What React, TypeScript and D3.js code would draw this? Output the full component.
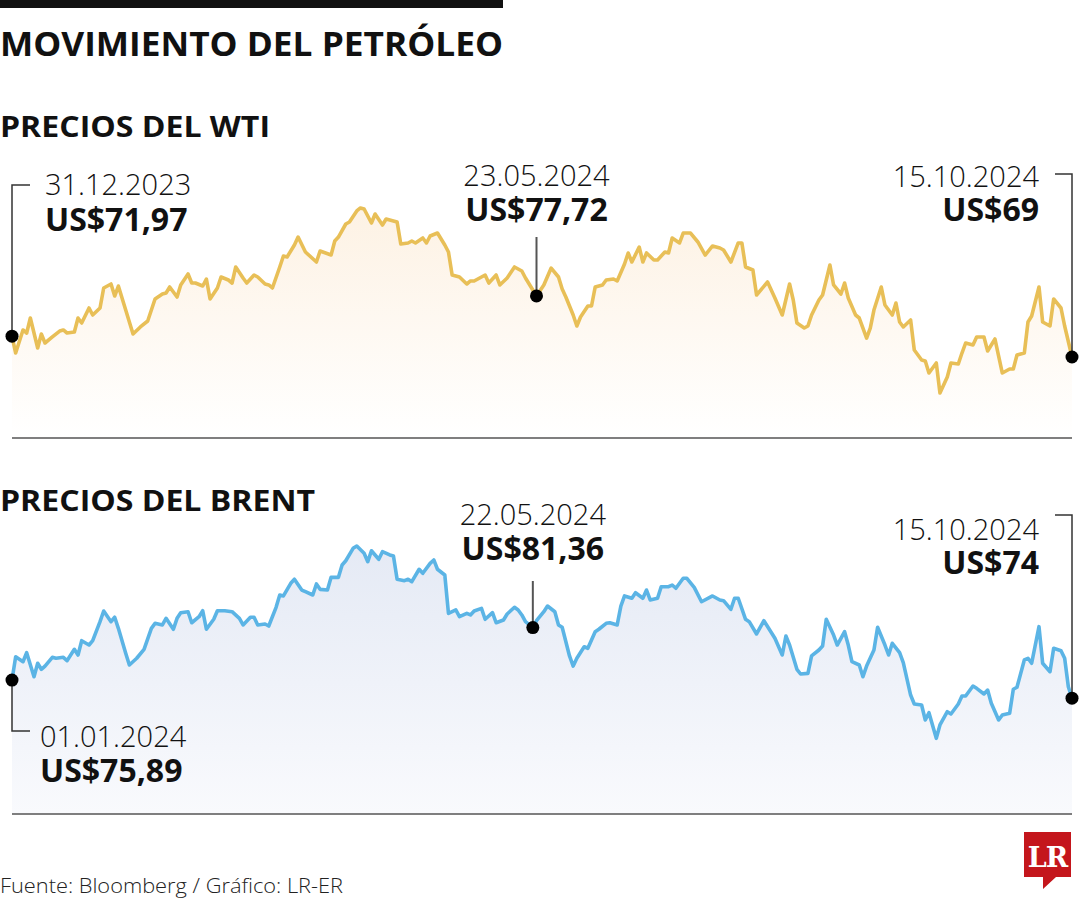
import React from "react";
import * as d3 from "d3";

// ---------- DATA ----------
const START_DATE = new Date(2023, 11, 31);
const END_DATE = new Date(2024, 9, 15);

// day offsets from 31.12.2023 and prices (US$)
const wtiDays = [
  0, 1, 3, 4, 5, 7, 8, 9, 11, 13, 14, 15, 17, 18, 19, 21, 22, 24, 25, 27,
  28, 29, 31, 33, 35, 37, 39, 41, 42, 43, 45, 46, 48, 49, 50, 52, 53, 54, 56, 57,
  59, 60, 61, 63, 64, 66, 67, 69, 70, 71, 73, 74, 75, 77, 78, 80, 83, 84, 87, 88,
  89, 91, 92, 94, 95, 96, 98, 99, 101, 102, 104, 105, 106, 108, 109, 110, 112, 113, 114, 116,
  118, 119, 120, 122, 124, 125, 126, 128, 129, 130, 132, 133, 135, 137, 139, 140, 142, 143, 145, 147,
  149, 150, 151, 153, 154, 155, 157, 158, 159, 161, 162, 164, 165, 167, 168, 169, 171, 172, 173, 175,
  176, 178, 179, 180, 182, 183, 185, 187, 189, 191, 193, 194, 196, 198, 199, 200, 202, 203, 206, 208,
  210, 212, 213, 214, 216, 217, 218, 220, 221, 223, 224, 226, 227, 228, 230, 231, 233, 234, 235, 237,
  238, 240, 241, 242, 243, 245, 246, 248, 249, 250, 252, 253, 255, 256, 258, 259, 260, 262, 263, 265,
  266, 268, 269, 270, 272, 273, 274, 276, 277, 278, 280, 281, 283, 284, 286, 287, 289,
];
const wtiPrices = [
  71.97, 69.57, 72.86, 72.43, 74.57, 70.29, 72.29, 71.0, 71.86, 72.71,
  72.86, 72.43, 72.57, 74.57, 73.86, 76.0, 75.0, 76.0, 78.86, 79.43,
  77.71, 79.14, 75.71, 72.29, 73.29, 74.14, 77.29, 78.0, 78.14, 79.0,
  77.57, 79.29, 80.86, 79.57, 79.57, 79.14, 80.14, 77.29, 78.86, 80.43,
  80.0, 79.57, 81.86, 80.29, 79.57, 80.71, 80.43, 79.43, 79.29, 78.86,
  81.86, 83.43, 83.29, 85.0, 86.14, 84.0, 82.57, 84.14, 83.57, 85.57,
  86.14, 88.0, 88.29, 89.86, 90.29, 90.14, 88.14, 89.43, 87.86, 88.71,
  88.43, 88.29, 85.14, 85.29, 85.57, 85.29, 86.0, 85.29, 86.29, 86.71,
  85.0, 84.0, 80.71, 80.43, 79.43, 79.86, 79.86, 80.43, 80.71, 79.57,
  80.71, 79.29, 80.29, 81.86, 81.29, 80.29, 78.57, 77.72, 79.29, 81.71,
  80.43, 78.71, 77.57, 75.0, 73.43, 74.71, 76.29, 76.29, 79.0, 79.29,
  80.0, 80.14, 79.86, 82.29, 83.86, 82.57, 84.71, 82.57, 83.86, 82.86,
  82.86, 84.0, 83.86, 86.0, 85.29, 86.71, 86.71, 85.43, 83.57, 84.86,
  84.57, 84.29, 82.57, 85.29, 85.29, 81.86, 81.43, 77.86, 79.71, 77.43,
  75.0, 79.43, 77.14, 73.86, 73.14, 73.43, 75.0, 77.14, 77.86, 82.14,
  79.29, 78.0, 79.57, 77.43, 75.0, 74.57, 71.71, 73.14, 75.71, 79.0,
  76.43, 75.0, 76.71, 74.0, 73.29, 74.29, 70.0, 68.57, 68.43, 66.71,
  68.14, 63.86, 66.14, 68.14, 68.0, 69.57, 71.0, 70.71, 71.86, 71.86,
  69.86, 71.57, 69.14, 66.71, 67.29, 67.29, 69.29, 69.57, 74.0, 74.86,
  79.0, 74.0, 73.43, 77.29, 76.0, 73.43, 69.0,
];

const brentDays = [
  0, 1, 3, 4, 6, 7, 8, 9, 11, 12, 14, 15, 17, 18, 19, 21, 22, 24, 25, 27,
  28, 29, 31, 32, 34, 36, 38, 39, 41, 42, 44, 45, 46, 48, 49, 51, 52, 53, 55, 56,
  58, 60, 62, 63, 65, 66, 67, 69, 70, 72, 73, 74, 76, 77, 79, 80, 82, 83, 84, 86,
  87, 89, 90, 91, 93, 94, 96, 97, 98, 100, 101, 103, 104, 105, 107, 108, 109, 111, 112, 114,
  115, 116, 118, 119, 121, 122, 124, 125, 126, 128, 129, 131, 132, 134, 135, 137, 138, 139, 140, 142,
  143, 145, 146, 148, 149, 150, 152, 153, 154, 156, 157, 159, 160, 162, 163, 165, 166, 167, 169, 170,
  172, 173, 174, 176, 177, 179, 180, 181, 183, 184, 186, 188, 191, 193, 194, 196, 197, 198, 200, 201,
  203, 205, 208, 210, 211, 212, 214, 215, 217, 218, 220, 221, 222, 224, 225, 227, 228, 229, 231, 232,
  233, 235, 236, 238, 239, 240, 242, 243, 245, 246, 248, 249, 250, 252, 253, 255, 256, 258, 259, 260,
  262, 263, 265, 266, 267, 269, 270, 272, 273, 274, 276, 277, 278, 280, 281, 283, 284, 286, 287, 288,
  289,
];
const brentPrices = [
  75.89, 78.32, 77.8, 78.74, 76.24, 77.64, 77.01, 77.35, 78.26, 78.16,
  78.26, 77.91, 79.09, 78.5, 79.99, 79.54, 79.99, 81.97, 83.08, 81.97,
  82.43, 81.28, 78.68, 77.46, 78.16, 79.09, 81.28, 81.8, 81.63, 82.32,
  81.18, 82.32, 82.91, 83.01, 81.86, 82.49, 83.11, 81.18, 82.22, 83.11,
  83.11, 83.01, 82.32, 81.63, 82.43, 82.43, 81.63, 81.73, 81.52, 83.47,
  84.75, 84.65, 85.97, 86.39, 85.27, 85.09, 84.75, 85.9, 85.34, 85.27,
  86.59, 86.59, 87.88, 88.32, 89.61, 89.85, 89.09, 88.22, 89.36, 88.47,
  89.26, 88.92, 88.81, 86.39, 86.24, 86.39, 86.14, 87.43, 87.01, 88.05,
  88.4, 87.43, 86.83, 82.84, 83.19, 82.49, 82.84, 82.67, 83.08, 83.36,
  82.22, 82.91, 81.86, 82.15, 82.77, 83.47, 83.19, 82.67, 81.97, 81.36,
  82.07, 83.01, 83.6, 83.01, 81.63, 81.39, 78.4, 77.35, 78.16, 79.36,
  79.2, 80.93, 81.18, 81.8, 81.86, 81.63, 83.6, 84.65, 84.41, 84.99,
  84.41, 85.27, 84.23, 84.41, 85.61, 85.61, 85.79, 85.45, 86.49, 86.49,
  85.55, 84.05, 84.65, 84.23, 84.16, 83.26, 84.41, 84.41, 82.22, 81.97,
  80.69, 82.07, 80.24, 78.5, 80.48, 79.54, 77.01, 76.52, 76.59, 78.4,
  79.02, 79.44, 82.22, 80.58, 79.54, 80.93, 79.54, 77.8, 77.46, 76.24,
  77.35, 79.02, 81.39, 79.54, 78.5, 79.72, 78.74, 77.7, 74.33, 73.4,
  73.29, 71.73, 72.49, 69.82, 71.21, 72.59, 72.35, 73.4, 74.23, 74.23,
  75.27, 75.03, 74.44, 74.85, 73.47, 71.73, 72.25, 72.43, 74.93, 75.14,
  77.98, 78.16, 77.64, 81.45, 77.64, 76.76, 79.2, 78.95, 78.16, 75.2,
  74.0,
];

const titleText = "MOVIMIENTO DEL PETRÓLEO";
const panelTitles = ["PRECIOS DEL WTI", "PRECIOS DEL BRENT"];
const wtiLabels = [
  { date: "31.12.2023", value: "US$71,97", day: 0 },
  { date: "23.05.2024", value: "US$77,72", day: 143 },
  { date: "15.10.2024", value: "US$69", day: 289 },
];
const brentLabels = [
  { date: "01.01.2024", value: "US$75,89", day: 0 },
  { date: "22.05.2024", value: "US$81,36", day: 142 },
  { date: "15.10.2024", value: "US$74", day: 289 },
];
const sourceText = "Fuente: Bloomberg / Gráfico: LR-ER";

// ---------- LAYOUT ----------
const W = 1080;
const H = 900;
const FONT = "'Open Sans', 'Noto Sans', sans-serif";

const x = d3.scaleTime().domain([START_DATE, END_DATE]).range([12, 1072]);
const dayDate = (d: number) => d3.timeDay.offset(START_DATE, d);

type Pt = { date: Date; value: number; day: number };
const toPoints = (days: number[], prices: number[]): Pt[] =>
  days.map((d, i) => ({ date: dayDate(d), value: prices[i], day: d }));

type Panel = {
  key: string;
  title: string;
  titleY: number;
  titleLen: number;
  points: Pt[];
  y: d3.ScaleLinear<number, number>;
  baseY: number;
  color: string;
  gradTop: string;
  gradBottom: string;
  gradY0: number;
  labels: { date: string; value: string; day: number }[];
  startLeaderY: number;
  startText: { dateY: number; valueY: number; x: number };
  midLeaderTop: number;
  midText: { dateY: number; valueY: number };
  endLeaderY: number;
  endText: { dateY: number; valueY: number };
};

const panels: Panel[] = [
  {
    key: "wti",
    title: panelTitles[0],
    titleY: 137,
    titleLen: 270,
    points: toPoints(wtiDays, wtiPrices),
    y: d3.scaleLinear().domain([60, 95]).range([420, 175]),
    baseY: 438,
    color: "#E8BF57",
    gradTop: "#FDF2E4",
    gradBottom: "#FFFFFF",
    gradY0: 210,
    labels: wtiLabels,
    startLeaderY: 185,
    startText: { dateY: 195, valueY: 231, x: 45 },
    midLeaderTop: 237,
    midText: { dateY: 186, valueY: 221 },
    endLeaderY: 174,
    endText: { dateY: 187, valueY: 221 },
  },
  {
    key: "brent",
    title: panelTitles[1],
    titleY: 511,
    titleLen: 315,
    points: toPoints(brentDays, brentPrices),
    y: d3.scaleLinear().domain([60, 95]).range([832.6, 496.6]),
    baseY: 814,
    color: "#5BB4E5",
    gradTop: "#E5EAF5",
    gradBottom: "#F9FAFD",
    gradY0: 550,
    labels: brentLabels,
    startLeaderY: 731,
    startText: { dateY: 747, valueY: 782, x: 40 },
    midLeaderTop: 581,
    midText: { dateY: 525, valueY: 560 },
    endLeaderY: 515,
    endText: { dateY: 540, valueY: 574 },
  },
];

function PanelView({ p }: { p: Panel }) {
  const line = d3
    .line<Pt>()
    .x((d) => x(d.date))
    .y((d) => p.y(d.value))
    .curve(d3.curveLinear);
  const area = d3
    .area<Pt>()
    .x((d) => x(d.date))
    .y0(p.baseY)
    .y1((d) => p.y(d.value))
    .curve(d3.curveLinear);
  const find = (day: number) => p.points.find((d) => d.day === day)!;
  const [sL, mL, eL] = p.labels;
  const s = find(sL.day);
  const m = find(mL.day);
  const e = find(eL.day);
  const sx = x(s.date), sy = p.y(s.value);
  const mx = x(m.date), my = p.y(m.value);
  const ex = x(e.date), ey = p.y(e.value);
  const gradId = `grad-${p.key}`;
  return (
    <g>
      <defs>
        <linearGradient id={gradId} gradientUnits="userSpaceOnUse" x1="0" x2="0" y1={p.gradY0} y2={p.baseY}>
          <stop offset="0" stopColor={p.gradTop} />
          <stop offset="1" stopColor={p.gradBottom} />
        </linearGradient>
      </defs>
      <text x={0} y={p.titleY} fontFamily={FONT} fontWeight={700} fontSize={28} fill="#111"
        textLength={p.titleLen} lengthAdjust="spacingAndGlyphs">
        {p.title}
      </text>
      <path d={area(p.points) || ""} fill={`url(#${gradId})`} />
      <path d={line(p.points) || ""} fill="none" stroke={p.color} strokeWidth={3.6} strokeLinejoin="round" />
      <line x1={12} x2={1072} y1={p.baseY} y2={p.baseY} stroke="#555" strokeWidth={1.5} />

      <path d={`M${sx + 18},${p.startLeaderY} H${sx} V${sy}`} fill="none" stroke="#333" strokeWidth={1.5} />
      <line x1={mx} x2={mx} y1={p.midLeaderTop} y2={my} stroke="#555" strokeWidth={2} />
      <path d={`M${ex - 17},${p.endLeaderY} H${ex} V${ey}`} fill="none" stroke="#333" strokeWidth={1.5} />

      <circle cx={sx} cy={sy} r={6.5} fill="#000" />
      <circle cx={mx} cy={my} r={6.5} fill="#000" />
      <circle cx={ex} cy={ey} r={6.5} fill="#000" />

      <g fontFamily={FONT} fill="#111">
        <text x={p.startText.x} y={p.startText.dateY} fontSize={29} fontWeight={300}>{sL.date}</text>
        <text x={p.startText.x} y={p.startText.valueY} fontSize={32} fontWeight={700}>{sL.value}</text>
        <text x={mx} y={p.midText.dateY} fontSize={29} fontWeight={300} textAnchor="middle">{mL.date}</text>
        <text x={mx} y={p.midText.valueY} fontSize={32} fontWeight={700} textAnchor="middle">{mL.value}</text>
        <text x={1039} y={p.endText.dateY} fontSize={29} fontWeight={300} textAnchor="end">{eL.date}</text>
        <text x={1039} y={p.endText.valueY} fontSize={32} fontWeight={700} textAnchor="end">{eL.value}</text>
      </g>
    </g>
  );
}

export default function App() {
  return (
    <svg width={W} height={H} viewBox={`0 0 ${W} ${H}`}
      style={{ position: "absolute", left: 0, top: 0, background: "#fff" }}>
      <rect x={0} y={0} width={W} height={H} fill="#fff" />
      <rect x={0} y={0} width={503} height={8} fill="#111" />
      <text x={0} y={56} fontFamily={FONT} fontWeight={700} fontSize={34} fill="#111"
        textLength={503} lengthAdjust="spacingAndGlyphs">
        {titleText}
      </text>
      {panels.map((p) => (
        <PanelView key={p.key} p={p} />
      ))}
      <text x={0} y={893} fontFamily={FONT} fontWeight={300} fontSize={21} fill="#222"
        textLength={343} lengthAdjust="spacingAndGlyphs">
        {sourceText}
      </text>
      <g>
        <path d="M1024,832 H1071 V877 H1056 L1043,889 L1043,877 H1024 Z" fill="#C4161C" />
        <text x={1047.5} y={867} textAnchor="middle" fontFamily="'DejaVu Serif', 'Liberation Serif', serif"
          fontWeight={700} fontSize={27} fill="#fff" letterSpacing={-1}>
          LR
        </text>
      </g>
    </svg>
  );
}
